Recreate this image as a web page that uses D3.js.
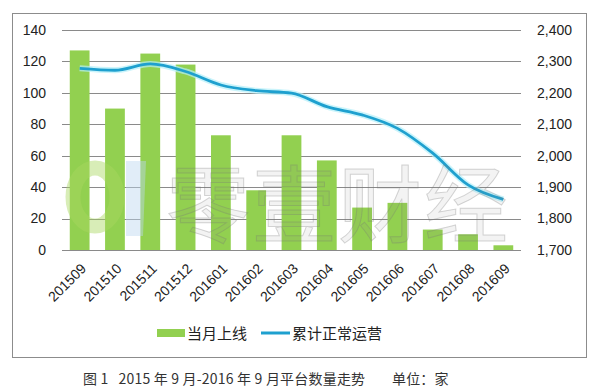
<!DOCTYPE html>
<html><head><meta charset="utf-8">
<script src="https://cdn.jsdelivr.net/npm/d3@7"></script>
<style>
html,body{margin:0;padding:0;background:#fff;}
svg{display:block;font-family:"Liberation Sans","Noto Sans CJK SC",sans-serif;}
</style></head><body>
<svg id="c" width="592" height="391"></svg>
<script>
const categories = ["201509","201510","201511","201512","201601","201602","201603","201604","201605","201606","201607","201608","201609"];
const monthlyNew = [127,90,125,118,73,38,73,57,27,30,13,10,3];
const cumulative = [2278,2272,2292,2268,2225,2207,2199,2156,2130,2087,2008,1907,1861];
const leftTicks = [0,20,40,60,80,100,120,140];
const rightTicks = [1700,1800,1900,2000,2100,2200,2300,2400];
const seriesNames = ["当月上线","累计正常运营"];
const caption = "图 1   2015 年 9 月-2016 年 9 月平台数量走势        单位：家";

const svg = d3.select("#c");
const L = 62, R = 521, T = 30, B = 250;
const x = d3.scaleBand().domain(categories).range([L, R]).paddingInner(0.44).paddingOuter(0.22);
const yL = d3.scaleLinear().domain([0,140]).range([B, T]);
const yR = d3.scaleLinear().domain([1700,2400]).range([B, T]);

// outer frame
svg.append("rect").attr("x",12.5).attr("y",13.5).attr("width",574).attr("height",344)
  .attr("fill","none").attr("stroke","#8c8c8c").attr("stroke-width",1);

// gridlines
svg.append("g").selectAll("line").data(leftTicks).join("line")
  .attr("x1",L).attr("x2",R).attr("y1",d=>Math.round(yL(d))+0.5).attr("y2",d=>Math.round(yL(d))+0.5)
  .attr("stroke","#8a8a8a").attr("stroke-width",1);

// bars
svg.append("g").selectAll("rect").data(categories).join("rect")
  .attr("x",d=>x(d)).attr("width",x.bandwidth())
  .attr("y",(d,i)=>yL(monthlyNew[i])).attr("height",(d,i)=>yL(0)-yL(monthlyNew[i]))
  .attr("fill","#92d050");

// line
const lineGen = d3.line().x((d,i)=>x(categories[i])+x.bandwidth()/2).y(d=>yR(d)).curve(d3.curveMonotoneX);
svg.append("path").datum(cumulative).attr("d",lineGen).attr("fill","none")
  .attr("stroke","#b4f0fa").attr("stroke-width",6).attr("opacity",0.7);
svg.append("path").datum(cumulative).attr("d",lineGen).attr("fill","none")
  .attr("stroke","#1ea0cf").attr("stroke-width",2.8);

// watermark (overlay)
const wm = svg.append("g").attr("pointer-events","none");
wm.append("ellipse").attr("cx",95).attr("cy",197).attr("rx",22).attr("ry",29).attr("fill","none")
  .attr("stroke","#a8d860").attr("stroke-width",15).attr("opacity",0.45);
wm.append("path").attr("d","M126,161 L146,161 L143,236 L126,236 Z").attr("fill","#bcd6f0").attr("opacity",0.45);
wm.append("text").attr("x",166).attr("y",236).attr("font-size",84)
  .attr("font-family","'Noto Sans CJK SC'")
  .attr("letter-spacing",2).attr("fill","#888").attr("fill-opacity",0.10)
  .attr("stroke","#777").attr("stroke-opacity",0.3).attr("stroke-width",1).text("零壹财经");

// left axis labels
svg.append("g").attr("font-size",14).selectAll("text").data(leftTicks).join("text")
  .attr("x",46).attr("y",d=>yL(d)).attr("dy","0.35em").attr("text-anchor","end").attr("fill","#222").text(d=>d);
// right axis labels
const fmt = d3.format(",");
svg.append("g").attr("font-size",14).selectAll("text").data(rightTicks).join("text")
  .attr("x",537).attr("y",d=>yR(d)).attr("dy","0.35em").attr("text-anchor","start").attr("fill","#222").text(d=>fmt(d));

// x labels
svg.append("g").attr("font-size",14).selectAll("text").data(categories).join("text")
  .attr("transform",d=>`translate(${x(d)+x.bandwidth()/2+4},${B+16}) rotate(-45)`)
  .attr("text-anchor","end").attr("dy","0.35em").attr("fill","#222").text(d=>d);

// legend
const lg = svg.append("g").attr("font-size",15).attr("font-family","'Noto Sans CJK SC'");
lg.append("rect").attr("x",157).attr("y",329).attr("width",28).attr("height",8).attr("fill","#92d050");
lg.append("text").attr("x",187).attr("y",339).attr("fill","#222").text(seriesNames[0]);
lg.append("line").attr("x1",261).attr("x2",290).attr("y1",333).attr("y2",333).attr("stroke","#1ea0cf").attr("stroke-width",3);
lg.append("text").attr("x",292).attr("y",339).attr("fill","#222").text(seriesNames[1]);

// caption
svg.append("text").attr("x",83).attr("y",384).attr("font-size",14).attr("letter-spacing",0.2)
  .attr("font-family","'Noto Sans CJK SC'").attr("fill","#333")
  .style("white-space","pre").text(caption);
</script>
</body></html>
